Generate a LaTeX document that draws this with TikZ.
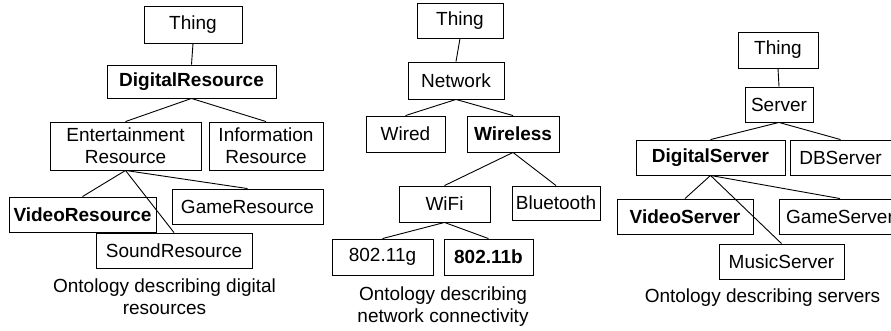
\documentclass[tikz,border=0pt]{standalone}
\usepackage{fontspec}
\setmainfont{Liberation Sans}

\begin{document}
\begin{tikzpicture}[x=1pt,y=-1pt,
	cls/.style={draw, line width=0.9pt, minimum height=35pt, inner sep=0pt, align=center, font=\fontsize{19}{22}\selectfont},
	bcls/.style={cls, font=\fontsize{19}{22}\selectfont\bfseries},
	capt/.style={inner sep=0pt, align=center, font=\fontsize{19}{22}\selectfont},
	edge/.style={line width=0.9pt}]
	\useasboundingbox (0,0) rectangle (891,330);
	% digital resources
	\node[cls, minimum width=98pt, minimum height=37pt] (thingA) at (193,24.5) {Thing};
	\node[bcls, minimum width=169pt, minimum height=33pt] (digRes) at (191.5,81.5) {DigitalResource};
	\node[cls, minimum width=151pt, minimum height=48pt] (entRes) at (125.5,146) {Entertainment\\Resource};
	\node[cls, minimum width=114pt, minimum height=48pt] (infoRes) at (266,146) {Information\\Resource};
	\node[bcls, minimum width=147pt] (vidRes) at (82.5,214.5) {VideoResource};
	\node[cls, minimum width=151pt] (gameRes) at (247.5,206.5) {GameResource};
	\node[cls, minimum width=156pt] (soundRes) at (174,250.5) {SoundResource};
	\node[capt] (captA) at (164.5,297) {Ontology describing digital\\resources};
	% network connectivity
	\node[cls, minimum width=86pt] (thingB) at (460,20.5) {Thing};
	\node[cls, minimum width=96pt, minimum height=37pt] (netw) at (456,80.5) {Network};
	\node[cls, minimum width=79pt, minimum height=36pt] (wired) at (405.5,134) {Wired};
	\node[bcls, minimum width=92pt, minimum height=36pt] (wireless) at (513,134) {Wireless};
	\node[cls, minimum width=91pt, minimum height=36pt] (wifi) at (444.5,204) {WiFi};
	\node[cls, minimum width=88pt, minimum height=34pt] (blue) at (556,203) {Bluetooth};
	\node[cls, minimum width=101pt, minimum height=36pt] (dotg) at (382.5,257) {802.11g};
	\node[bcls, minimum width=89pt, minimum height=36pt] (dotb) at (488.5,257) {802.11b};
	\node[capt] (captB) at (443,307) {Ontology describing\\network connectivity};
	% servers
	\node[cls, minimum width=80pt, minimum height=36pt] (thingC) at (778,50) {Thing};
	\node[cls, minimum width=68pt] (serv) at (779,104.5) {Server};
	\node[bcls, minimum width=149pt] (digServ) at (710.5,157.5) {DigitalServer};
	\node[cls, minimum width=101pt] (dbServ) at (840.5,157.5) {DBServer};
	\node[bcls, minimum width=136pt] (vidServ) at (685,216.5) {VideoServer};
	\node[cls, minimum width=122pt] (gameServ) at (840,216.5) {GameServer};
	\node[cls, minimum width=125pt] (musServ) at (781.5,261.5) {MusicServer};
	\node[capt] (captC) at (762.5,298) {Ontology describing servers};
	% links
	\foreach \p/\c in {thingA/digRes, digRes/entRes, digRes/infoRes, entRes/vidRes, entRes/soundRes, entRes/gameRes,
		thingB/netw, netw/wired, netw/wireless, wireless/wifi, wireless/blue, wifi/dotg, wifi/dotb,
		thingC/serv, serv/digServ, serv/dbServ, digServ/vidServ, digServ/musServ, digServ/gameServ}
	\draw[edge] (\p.south) -- (\c.north);
\end{tikzpicture}
\end{document}
